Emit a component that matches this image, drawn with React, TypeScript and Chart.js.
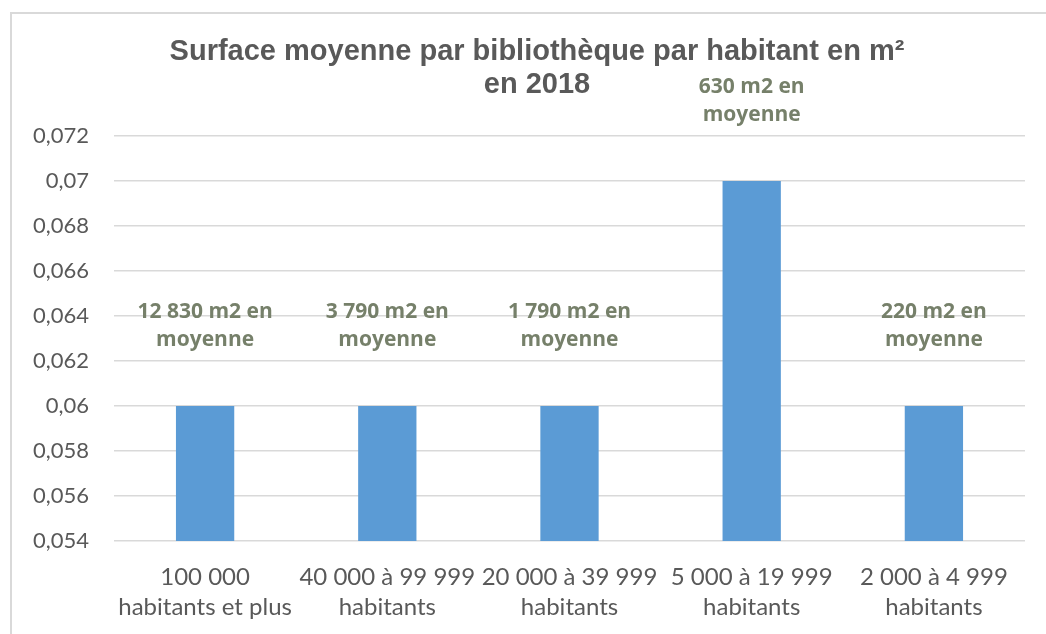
import React, { useEffect, useRef } from "react";
import { Chart, registerables } from "chart.js";

Chart.register(...registerables);

const categories: string[][] = [
  ["100 000", "habitants et plus"],
  ["40 000 à 99 999", "habitants"],
  ["20 000 à 39 999", "habitants"],
  ["5 000 à 19 999", "habitants"],
  ["2 000 à 4 999", "habitants"],
];
const values: number[] = [0.06, 0.06, 0.06, 0.07, 0.06];
const annotations: string[][] = [
  ["12 830 m2 en", "moyenne"],
  ["3 790 m2 en", "moyenne"],
  ["1 790 m2 en", "moyenne"],
  ["630 m2 en", "moyenne"],
  ["220 m2 en", "moyenne"],
];
const titleLines: string[] = ["Surface moyenne par bibliothèque par habitant en m²", "en 2018"];
const yMin = 0.054;
const yMax = 0.072;
const yStep = 0.002;

const W = 1046;
const H = 634;

export default function App() {
  const ref = useRef<HTMLCanvasElement | null>(null);
  useEffect(() => {
    if (!ref.current) return;
    const framePlugin = {
      id: "frame",
      beforeDraw(chart: any) {
        const ctx = chart.ctx;
        ctx.save();
        ctx.fillStyle = "#ffffff";
        ctx.fillRect(0, 0, W, H);
        ctx.strokeStyle = "#d9d9d9";
        ctx.lineWidth = 2;
        ctx.beginPath();
        ctx.moveTo(11, H + 10);
        ctx.lineTo(11, 13);
        ctx.lineTo(W + 10, 13);
        ctx.stroke();
        ctx.restore();
      },
      afterDraw(chart: any) {
        const ctx = chart.ctx;
        ctx.save();
        ctx.fillStyle = "#595959";
        ctx.font = "bold 29px 'Liberation Sans', Arial, sans-serif";
        ctx.textAlign = "center";
        ctx.textBaseline = "middle";
        ctx.fillText(titleLines[0], 537, 52);
        ctx.fillText(titleLines[1], 537, 85);
        ctx.restore();
      },
    };
    const labelPlugin = {
      id: "barNotes",
      afterDatasetsDraw(chart: any) {
        const ctx = chart.ctx;
        const meta = chart.getDatasetMeta(0);
        ctx.save();
        ctx.fillStyle = "#76806a";
        ctx.font = "bold 21px 'Open Sans', sans-serif";
        ctx.textAlign = "center";
        ctx.textBaseline = "middle";
        meta.data.forEach((el: any, i: number) => {
          const lines = annotations[i];
          lines.forEach((ln, j) => {
            ctx.fillText(ln, el.x, el.y - 94 + j * 28);
          });
        });
        ctx.restore();
      },
    };
    const chart = new Chart(ref.current, {
      type: "bar",
      data: {
        labels: categories,
        datasets: [
          {
            data: values,
            backgroundColor: "#5b9bd5",
            barPercentage: 0.32,
            categoryPercentage: 1,
          },
        ],
      },
      options: {
        animation: false,
        responsive: false,
        devicePixelRatio: 1,
        layout: { padding: { left: 0, right: 21, top: 136, bottom: 0 } },
        plugins: {
          legend: { display: false },
          tooltip: { enabled: false },
          title: { display: false },
        },
        scales: {
          x: {
            grid: { display: false, drawTicks: false },
            border: { display: false },
            ticks: {
              color: "#595959",
              font: { family: "Lato, 'Open Sans', sans-serif", size: 24, lineHeight: 1.25 },
              padding: 21,
              maxRotation: 0,
              autoSkip: false,
            },
            afterFit(scale: any) {
              scale.height = 93;
            },
          },
          y: {
            min: yMin,
            max: yMax,
            grid: { color: "#d9d9d9", lineWidth: 1.5, drawTicks: false },
            border: { display: false },
            ticks: {
              stepSize: yStep,
              color: "#595959",
              padding: 25,
              font: { family: "Lato, 'Open Sans', sans-serif", size: 22 },
              callback: (v: any) => String(Number(Number(v).toFixed(3))).replace(".", ","),
            },
            afterFit(scale: any) {
              scale.width = 114;
            },
          },
        },
      },
      plugins: [framePlugin, labelPlugin],
    });
    return () => chart.destroy();
  }, []);
  return (
    <div style={{ position: "fixed", left: 0, top: 0, width: W, height: H, background: "#fff" }}>
      <canvas ref={ref} width={W} height={H} style={{ display: "block" }} />
    </div>
  );
}
